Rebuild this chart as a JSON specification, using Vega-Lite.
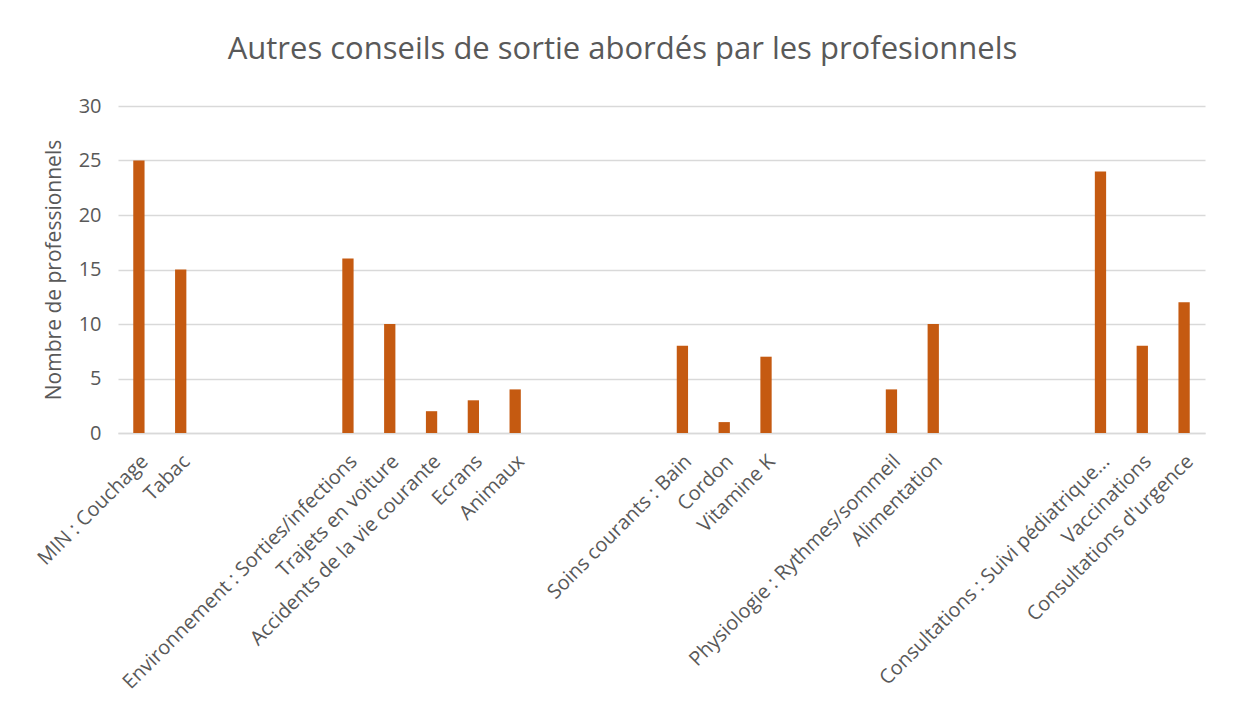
{
  "$schema": "https://vega.github.io/schema/vega-lite/v6.json",
  "autosize": "none",
  "padding": {"left": 118, "top": 106, "right": 32, "bottom": 280},
  "width": 1087,
  "height": 327,
  "background": "white",
  "title": {
    "text": "Autres conseils de sortie abordés par les profesionnels",
    "font": "Open Sans",
    "fontSize": 31,
    "fontWeight": "normal",
    "color": "#595959",
    "anchor": "middle",
    "dx": -39,
    "offset": 30
  },
  "data": {
    "values": [
      {"conseil": "MIN : Couchage", "n": 25},
      {"conseil": "Tabac", "n": 15},
      {"conseil": "Environnement : Sorties/infections", "n": 16},
      {"conseil": "Trajets en voiture", "n": 10},
      {"conseil": "Accidents de la vie courante", "n": 2},
      {"conseil": "Ecrans", "n": 3},
      {"conseil": "Animaux", "n": 4},
      {"conseil": "Soins courants : Bain", "n": 8},
      {"conseil": "Cordon", "n": 1},
      {"conseil": "Vitamine K", "n": 7},
      {"conseil": "Physiologie : Rythmes/sommeil", "n": 4},
      {"conseil": "Alimentation", "n": 10},
      {"conseil": "Consultations : Suivi pédiatrique...", "n": 24},
      {"conseil": "Vaccinations", "n": 8},
      {"conseil": "Consultations d'urgence", "n": 12}
    ]
  },
  "mark": {"type": "bar", "color": "#C55A11"},
  "encoding": {
    "x": {
      "field": "conseil",
      "type": "nominal",
      "scale": {
        "domain": ["MIN : Couchage", "Tabac", "_1", "_2", "_3", "Environnement : Sorties/infections", "Trajets en voiture", "Accidents de la vie courante", "Ecrans", "Animaux", "_4", "_5", "_6", "Soins courants : Bain", "Cordon", "Vitamine K", "_7", "_8", "Physiologie : Rythmes/sommeil", "Alimentation", "_9", "_10", "_11", "Consultations : Suivi pédiatrique...", "Vaccinations", "Consultations d'urgence"],
        "paddingInner": 0.73,
        "paddingOuter": 0.365
      },
      "axis": {
        "title": null,
        "labelExpr": "indexof(datum.label, '_') == 0 ? '' : datum.label",
        "labelAngle": -45,
        "labelAlign": "right",
        "labelBaseline": "middle",
        "labelFont": "Open Sans",
        "labelFontSize": 20,
        "labelColor": "#595959",
        "labelPadding": 25,
        "labelOffset": 6,
        "labelLimit": 500,
        "ticks": false,
        "domainColor": "#D9D9D9",
        "domainWidth": 1.5,
        "grid": false
      }
    },
    "y": {
      "field": "n",
      "type": "quantitative",
      "scale": {"domain": [0, 30], "nice": false},
      "axis": {
        "title": "Nombre de professionnels",
        "titleFont": "Open Sans",
        "titleFontSize": 21,
        "titleFontWeight": "normal",
        "titleColor": "#595959",
        "titlePadding": 14,
        "values": [0, 5, 10, 15, 20, 25, 30],
        "labelFont": "Open Sans",
        "labelFontSize": 20,
        "labelColor": "#595959",
        "labelPadding": 17,
        "ticks": false,
        "domain": false,
        "grid": true,
        "gridColor": "#D9D9D9",
        "gridWidth": 1.5
      }
    }
  },
  "config": {"view": {"stroke": null}}
}
